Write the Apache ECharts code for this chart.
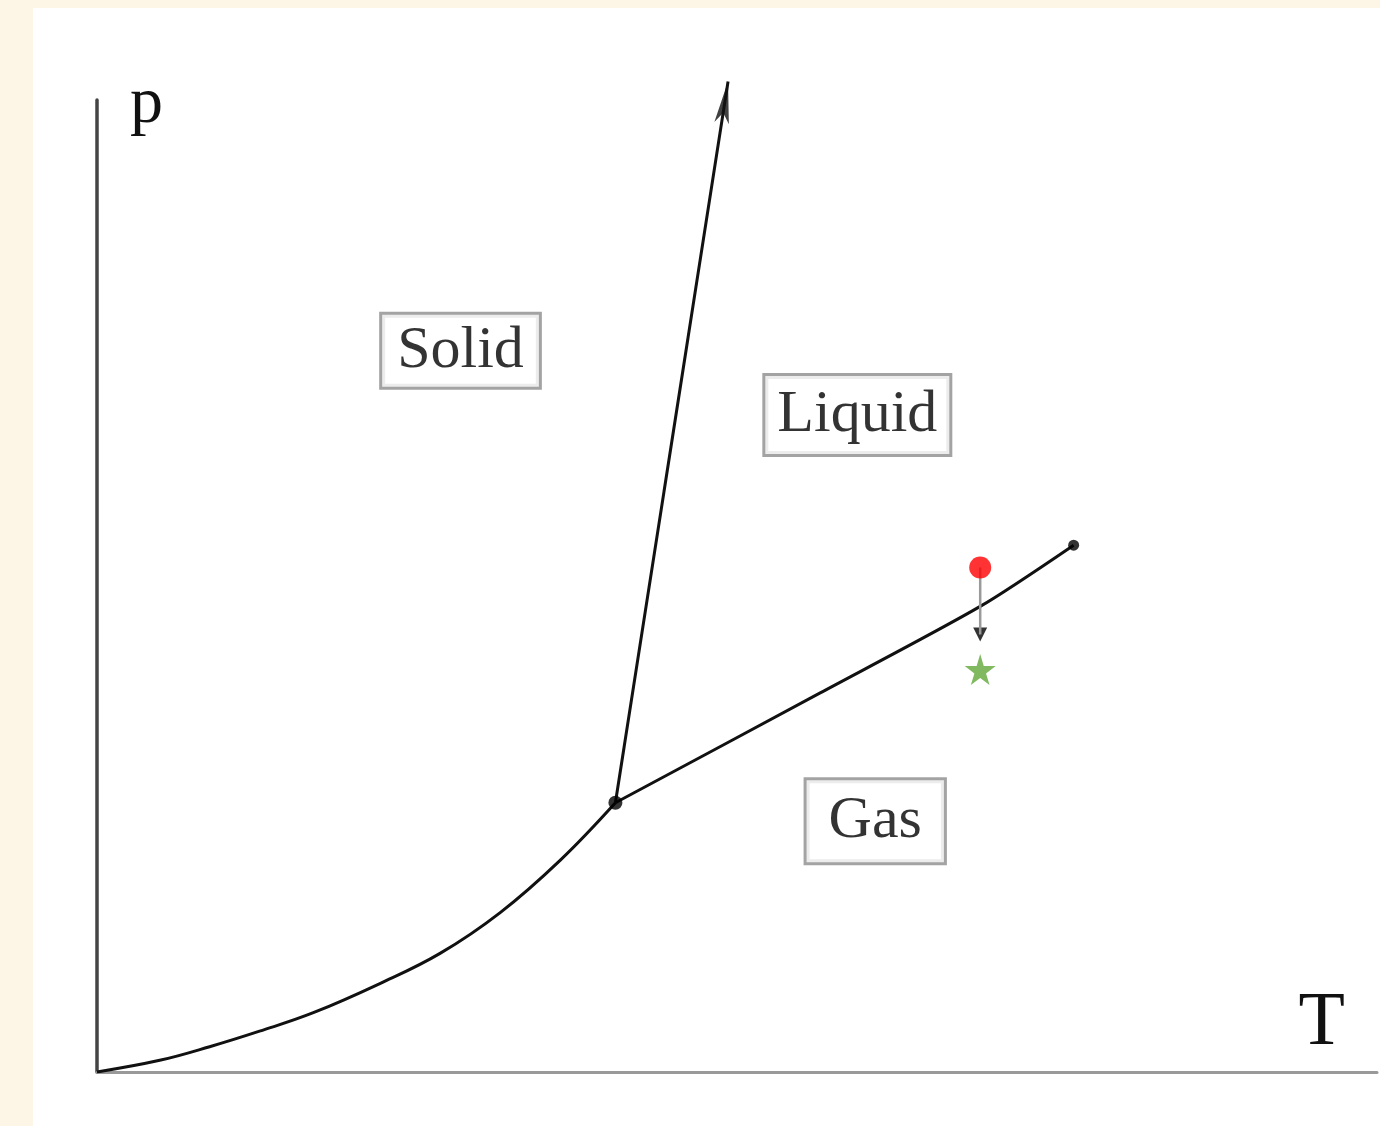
<!DOCTYPE html>
<html>
<head>
<meta charset="utf-8">
<title>Phase diagram</title>
<script src="https://cdn.jsdelivr.net/npm/echarts@6/dist/echarts.min.js"></script>
<style>
  html, body { margin: 0; padding: 0; background: #fdf5e6; }
  #chart {
    position: absolute;
    left: 33px; top: 8px;
    width: 1347px; height: 1118px;
    background: #ffffff;
  }
</style>
</head>
<body>
<div id="chart"></div>
<script>
// sublimation curve (solid / gas)
var subT = [0, 4.9, 8.8, 12.7, 16.9, 22.1, 26.8, 31.5, 36.2, 40.5];
var subP = [0, 1.2, 2.6, 4.2, 6.1, 9.1, 12.2, 16.4, 21.8, 27.7];
// vaporization curve (liquid / gas), triple point -> critical point
var vapT = [40.5, 56.5, 69.0, 76.3];
var vapP = [27.7, 39.0, 47.9, 54.2];
// melting line (solid / liquid), ends in an arrow
var meltT = [40.5, 49.3];
var meltP = [27.7, 101.9];
var triplePoint = [40.5, 27.7];
var criticalPoint = [76.3, 54.2];
// state change: red dot -> green star
var startState = [69.0, 51.9];
var arrowHead = [69.0, 45.0];
var endState = [69.0, 41.4];
// region labels
var regionNames = ['Solid', 'Liquid', 'Gas'];
var regionT = [28.4, 59.4, 60.8];
var regionP = [74.2, 67.6, 25.8];
var regionPad = [[6, 15], [9, 12], [11, 22]];

function pairs(xs, ys) {
  return xs.map(function (x, i) { return [x, ys[i]]; });
}

var chart = echarts.init(document.getElementById('chart'));
var serif = 'Liberation Serif';
var ink = '#111';

var option = {
  animation: false,
  grid: { left: 64, right: 3, top: 92, bottom: 54 },
  xAxis: {
    type: 'value', min: 0, max: 100,
    name: 'T', nameLocation: 'end', nameGap: -32,
    nameTextStyle: {
      fontFamily: serif, fontSize: 76, color: ink,
      align: 'right', verticalAlign: 'bottom', padding: [0, 0, 10, 0]
    },
    axisLine: { lineStyle: { color: '#999', width: 3 } },
    axisTick: { show: false },
    axisLabel: { show: false },
    splitLine: { show: false }
  },
  yAxis: {
    type: 'value', min: 0, max: 100,
    name: 'p', nameLocation: 'end', nameGap: -38,
    nameTextStyle: {
      fontFamily: serif, fontSize: 66, color: ink,
      align: 'left', verticalAlign: 'bottom', padding: [0, 0, 0, 33]
    },
    axisLine: { lineStyle: { color: '#444', width: 3.5 } },
    axisTick: { show: false },
    axisLabel: { show: false },
    splitLine: { show: false }
  },
  series: [
    {
      name: 'sublimation', type: 'line', smooth: 0.4,
      symbol: 'none',
      lineStyle: { color: ink, width: 3 },
      data: pairs(subT, subP)
    },
    {
      name: 'vaporization', type: 'line', smooth: 0.25,
      symbol: 'none',
      lineStyle: { color: ink, width: 3 },
      data: pairs(vapT, vapP)
    },
    {
      name: 'melting', type: 'line', symbol: 'none', clip: false,
      lineStyle: { color: ink, width: 3 },
      data: pairs(meltT, meltP)
    },
    {
      name: 'melting arrow', type: 'scatter', clip: false,
      symbol: 'arrow', symbolSize: [11, 42], symbolRotate: -8.8,
      itemStyle: { color: ink },
      data: [[meltT[1], meltP[1]]]
    },
    {
      name: 'path', type: 'line', symbol: 'none',
      lineStyle: { color: '#9a9a9a', width: 2.5 },
      data: [startState, arrowHead]
    },
    {
      name: 'path arrow', type: 'scatter',
      symbol: 'triangle', symbolSize: [14, 14], symbolRotate: 180,
      itemStyle: { color: '#000' },
      data: [arrowHead]
    },
    {
      name: 'points', type: 'scatter', z: 5,
      itemStyle: { color: '#000' },
      data: [
        { value: triplePoint, symbolSize: 14 },
        { value: criticalPoint, symbolSize: 11 }
      ]
    },
    {
      name: 'start', type: 'scatter', z: 6, symbolSize: 22,
      itemStyle: { color: '#ff0000' },
      data: [startState]
    },
    {
      name: 'end', type: 'scatter', z: 6, symbolSize: 31,
      symbol: 'path://M50,0 L61,35 L98,35 L68,57 L79,91 L50,70 L21,91 L32,57 L2,35 L39,35 Z',
      itemStyle: { color: '#62a83a' },
      data: [endState]
    },
    {
      name: 'regions', type: 'scatter', symbolSize: 1, z: 4,
      itemStyle: { color: 'rgba(0,0,0,0)' },
      label: {
        show: true, position: 'inside', formatter: '{b}',
        fontFamily: serif, fontSize: 60, lineHeight: 60, color: '#000',
        textBorderWidth: 0,
        backgroundColor: '#fff', borderColor: '#8c8c8c', borderWidth: 3
      },
      data: regionNames.map(function (n, i) {
        return {
          name: n,
          value: [regionT[i], regionP[i]],
          label: { padding: regionPad[i] }
        };
      })
    }
  ]
};

chart.setOption(option);
</script>
</body>
</html>
